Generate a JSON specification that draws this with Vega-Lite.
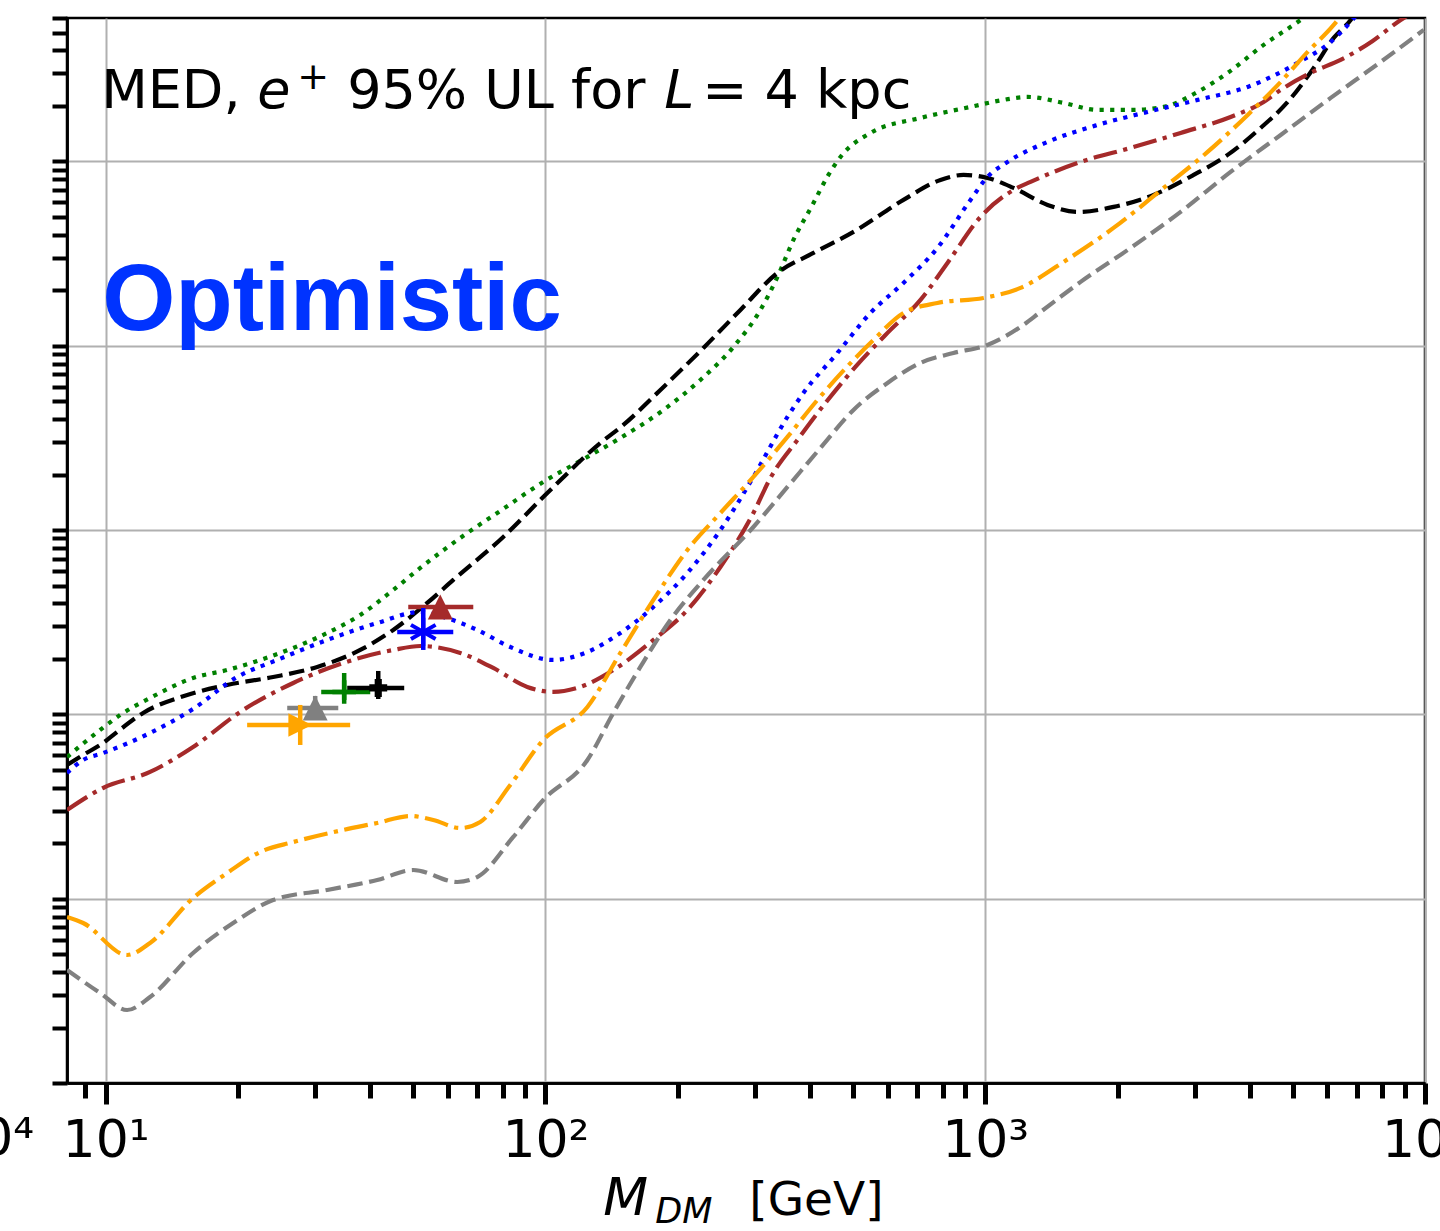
{
  "$schema": "https://vega.github.io/schema/vega-lite/v6.json",
  "width": 1358,
  "height": 1065,
  "autosize": {"type": "none"},
  "padding": {"left": 67, "top": 18, "right": 15, "bottom": 148},
  "background": "white",
  "config": {
    "view": {"stroke": "black", "strokeWidth": 2.5},
    "axis": {
      "domainColor": "black",
      "domainWidth": 2.5,
      "tickColor": "black",
      "gridColor": "#b0b0b0",
      "gridWidth": 2,
      "labelFont": "DejaVu Sans",
      "labelColor": "black"
    }
  },
  "resolve": {"axis": {"x": "independent", "y": "independent"}},
  "datasets": {
    "curves": [
      {"channel": "A", "mass": 8.17, "sigmav": 5.87e-27},
      {"channel": "A", "mass": 9.72, "sigmav": 8.23e-27},
      {"channel": "A", "mass": 10.79, "sigmav": 9.92e-27},
      {"channel": "A", "mass": 12.62, "sigmav": 1.227e-26},
      {"channel": "A", "mass": 15.81, "sigmav": 1.576e-26},
      {"channel": "A", "mass": 18.9, "sigmav": 1.741e-26},
      {"channel": "A", "mass": 22.46, "sigmav": 1.973e-26},
      {"channel": "A", "mass": 26.71, "sigmav": 2.293e-26},
      {"channel": "A", "mass": 31.91, "sigmav": 2.765e-26},
      {"channel": "A", "mass": 37.93, "sigmav": 3.462e-26},
      {"channel": "A", "mass": 45.08, "sigmav": 4.732e-26},
      {"channel": "A", "mass": 51.93, "sigmav": 6.229e-26},
      {"channel": "A", "mass": 66.44, "sigmav": 9.64e-26},
      {"channel": "A", "mass": 77.71, "sigmav": 1.238e-25},
      {"channel": "A", "mass": 98.9, "sigmav": 1.824e-25},
      {"channel": "A", "mass": 124.6, "sigmav": 2.493e-25},
      {"channel": "A", "mass": 148.1, "sigmav": 3.16e-25},
      {"channel": "A", "mass": 185.5, "sigmav": 4.484e-25},
      {"channel": "A", "mass": 225.1, "sigmav": 6.523e-25},
      {"channel": "A", "mass": 267.6, "sigmav": 9.85e-25},
      {"channel": "A", "mass": 308.2, "sigmav": 1.564e-24},
      {"channel": "A", "mass": 337.0, "sigmav": 2.362e-24},
      {"channel": "A", "mass": 366.4, "sigmav": 3.751e-24},
      {"channel": "A", "mass": 404.8, "sigmav": 5.808e-24},
      {"channel": "A", "mass": 440.1, "sigmav": 8.448e-24},
      {"channel": "A", "mass": 468.7, "sigmav": 1.058e-23},
      {"channel": "A", "mass": 548.5, "sigmav": 1.428e-23},
      {"channel": "A", "mass": 712.7, "sigmav": 1.722e-23},
      {"channel": "A", "mass": 925.9, "sigmav": 1.976e-23},
      {"channel": "A", "mass": 1100, "sigmav": 2.157e-23},
      {"channel": "A", "mass": 1248, "sigmav": 2.239e-23},
      {"channel": "A", "mass": 1507, "sigmav": 2.077e-23},
      {"channel": "A", "mass": 1801, "sigmav": 1.903e-23},
      {"channel": "A", "mass": 2141, "sigmav": 1.903e-23},
      {"channel": "A", "mass": 2545, "sigmav": 1.976e-23},
      {"channel": "A", "mass": 3041, "sigmav": 2.383e-23},
      {"channel": "A", "mass": 3558, "sigmav": 3.021e-23},
      {"channel": "A", "mass": 4297, "sigmav": 4.287e-23},
      {"channel": "A", "mass": 5215, "sigmav": 5.857e-23},
      {"channel": "A", "mass": 5790, "sigmav": 7.065e-23},

      {"channel": "B", "mass": 8.17, "sigmav": 5.314e-27},
      {"channel": "B", "mass": 8.89, "sigmav": 6.022e-27},
      {"channel": "B", "mass": 9.87, "sigmav": 6.995e-27},
      {"channel": "B", "mass": 10.62, "sigmav": 8.027e-27},
      {"channel": "B", "mass": 12.17, "sigmav": 1.018e-26},
      {"channel": "B", "mass": 15.33, "sigmav": 1.274e-26},
      {"channel": "B", "mass": 18.9, "sigmav": 1.444e-26},
      {"channel": "B", "mass": 24.04, "sigmav": 1.595e-26},
      {"channel": "B", "mass": 30.28, "sigmav": 1.808e-26},
      {"channel": "B", "mass": 37.93, "sigmav": 2.236e-26},
      {"channel": "B", "mass": 45.08, "sigmav": 2.871e-26},
      {"channel": "B", "mass": 53.86, "sigmav": 4.022e-26},
      {"channel": "B", "mass": 61.73, "sigmav": 5.362e-26},
      {"channel": "B", "mass": 80.2, "sigmav": 9.176e-26},
      {"channel": "B", "mass": 101.0, "sigmav": 1.589e-25},
      {"channel": "B", "mass": 133.4, "sigmav": 2.969e-25},
      {"channel": "B", "mass": 150.4, "sigmav": 3.718e-25},
      {"channel": "B", "mass": 182.6, "sigmav": 5.757e-25},
      {"channel": "B", "mass": 228.7, "sigmav": 9.73e-25},
      {"channel": "B", "mass": 277.6, "sigmav": 1.564e-24},
      {"channel": "B", "mass": 337.0, "sigmav": 2.483e-24},
      {"channel": "B", "mass": 406.9, "sigmav": 3.188e-24},
      {"channel": "B", "mass": 501.8, "sigmav": 4.145e-24},
      {"channel": "B", "mass": 651.8, "sigmav": 6.183e-24},
      {"channel": "B", "mass": 791.2, "sigmav": 7.937e-24},
      {"channel": "B", "mass": 892.6, "sigmav": 8.448e-24},
      {"channel": "B", "mass": 1012, "sigmav": 8.137e-24},
      {"channel": "B", "mass": 1160, "sigmav": 7.18e-24},
      {"channel": "B", "mass": 1386, "sigmav": 5.808e-24},
      {"channel": "B", "mass": 1622, "sigmav": 5.321e-24},
      {"channel": "B", "mass": 1958, "sigmav": 5.664e-24},
      {"channel": "B", "mass": 2415, "sigmav": 6.58e-24},
      {"channel": "B", "mass": 2978, "sigmav": 8.448e-24},
      {"channel": "B", "mass": 3558, "sigmav": 1.085e-23},
      {"channel": "B", "mass": 4229, "sigmav": 1.519e-23},
      {"channel": "B", "mass": 4873, "sigmav": 2.102e-23},
      {"channel": "B", "mass": 5583, "sigmav": 3.216e-23},
      {"channel": "B", "mass": 6200, "sigmav": 4.679e-23},
      {"channel": "B", "mass": 6776, "sigmav": 5.857e-23},
      {"channel": "B", "mass": 7142, "sigmav": 7.065e-23},

      {"channel": "C", "mass": 8.17, "sigmav": 4.808e-27},
      {"channel": "C", "mass": 8.89, "sigmav": 5.657e-27},
      {"channel": "C", "mass": 9.87, "sigmav": 6.17e-27},
      {"channel": "C", "mass": 12.62, "sigmav": 7.928e-27},
      {"channel": "C", "mass": 15.81, "sigmav": 1.07e-26},
      {"channel": "C", "mass": 19.91, "sigmav": 1.595e-26},
      {"channel": "C", "mass": 24.55, "sigmav": 1.973e-26},
      {"channel": "C", "mass": 31.91, "sigmav": 2.533e-26},
      {"channel": "C", "mass": 41.46, "sigmav": 3.132e-26},
      {"channel": "C", "mass": 51.93, "sigmav": 3.594e-26},
      {"channel": "C", "mass": 58.58, "sigmav": 3.377e-26},
      {"channel": "C", "mass": 69.98, "sigmav": 2.871e-26},
      {"channel": "C", "mass": 83.19, "sigmav": 2.321e-26},
      {"channel": "C", "mass": 104.2, "sigmav": 1.973e-26},
      {"channel": "C", "mass": 124.6, "sigmav": 2.181e-26},
      {"channel": "C", "mass": 148.1, "sigmav": 2.765e-26},
      {"channel": "C", "mass": 176.0, "sigmav": 3.826e-26},
      {"channel": "C", "mass": 210.3, "sigmav": 5.851e-26},
      {"channel": "C", "mass": 250.0, "sigmav": 1.001e-25},
      {"channel": "C", "mass": 297.1, "sigmav": 1.941e-25},
      {"channel": "C", "mass": 355.1, "sigmav": 4.109e-25},
      {"channel": "C", "mass": 386.1, "sigmav": 5.545e-25},
      {"channel": "C", "mass": 461.4, "sigmav": 9.14e-25},
      {"channel": "C", "mass": 548.5, "sigmav": 1.507e-24},
      {"channel": "C", "mass": 651.8, "sigmav": 2.192e-24},
      {"channel": "C", "mass": 778.7, "sigmav": 3.394e-24},
      {"channel": "C", "mass": 925.9, "sigmav": 6.183e-24},
      {"channel": "C", "mass": 1012, "sigmav": 8.24e-24},
      {"channel": "C", "mass": 1124, "sigmav": 9.94e-24},
      {"channel": "C", "mass": 1386, "sigmav": 1.276e-23},
      {"channel": "C", "mass": 1801, "sigmav": 1.578e-23},
      {"channel": "C", "mass": 2340, "sigmav": 1.856e-23},
      {"channel": "C", "mass": 3041, "sigmav": 2.157e-23},
      {"channel": "C", "mass": 3952, "sigmav": 2.536e-23},
      {"channel": "C", "mass": 5133, "sigmav": 3.424e-23},
      {"channel": "C", "mass": 6103, "sigmav": 4.45e-23},
      {"channel": "C", "mass": 6776, "sigmav": 5.713e-23},
      {"channel": "C", "mass": 7142, "sigmav": 6.637e-23},

      {"channel": "D", "mass": 8.17, "sigmav": 3.029e-27},
      {"channel": "D", "mass": 9.87, "sigmav": 3.986e-27},
      {"channel": "D", "mass": 12.62, "sigmav": 4.87e-27},
      {"channel": "D", "mass": 15.81, "sigmav": 6.655e-27},
      {"channel": "D", "mass": 20.55, "sigmav": 1.057e-26},
      {"channel": "D", "mass": 26.71, "sigmav": 1.48e-26},
      {"channel": "D", "mass": 34.7, "sigmav": 1.901e-26},
      {"channel": "D", "mass": 45.08, "sigmav": 2.236e-26},
      {"channel": "D", "mass": 51.93, "sigmav": 2.35e-26},
      {"channel": "D", "mass": 64.04, "sigmav": 2.154e-26},
      {"channel": "D", "mass": 76.1, "sigmav": 1.786e-26},
      {"channel": "D", "mass": 90.95, "sigmav": 1.408e-26},
      {"channel": "D", "mass": 104.2, "sigmav": 1.323e-26},
      {"channel": "D", "mass": 118.2, "sigmav": 1.391e-26},
      {"channel": "D", "mass": 142.7, "sigmav": 1.741e-26},
      {"channel": "D", "mass": 176.0, "sigmav": 2.533e-26},
      {"channel": "D", "mass": 210.3, "sigmav": 3.686e-26},
      {"channel": "D", "mass": 250.0, "sigmav": 6.307e-26},
      {"channel": "D", "mass": 297.1, "sigmav": 1.238e-25},
      {"channel": "D", "mass": 324.8, "sigmav": 1.917e-25},
      {"channel": "D", "mass": 374.1, "sigmav": 3.083e-25},
      {"channel": "D", "mass": 433.2, "sigmav": 4.893e-25},
      {"channel": "D", "mass": 506.8, "sigmav": 7.674e-25},
      {"channel": "D", "mass": 599.6, "sigmav": 1.174e-24},
      {"channel": "D", "mass": 712.7, "sigmav": 1.772e-24},
      {"channel": "D", "mass": 820.7, "sigmav": 2.814e-24},
      {"channel": "D", "mass": 975.7, "sigmav": 4.999e-24},
      {"channel": "D", "mass": 1160, "sigmav": 7.005e-24},
      {"channel": "D", "mass": 1268, "sigmav": 7.744e-24},
      {"channel": "D", "mass": 1648, "sigmav": 9.94e-24},
      {"channel": "D", "mass": 2141, "sigmav": 1.184e-23},
      {"channel": "D", "mass": 2782, "sigmav": 1.428e-23},
      {"channel": "D", "mass": 3614, "sigmav": 1.743e-23},
      {"channel": "D", "mass": 4297, "sigmav": 2.102e-23},
      {"channel": "D", "mass": 4697, "sigmav": 2.443e-23},
      {"channel": "D", "mass": 5553, "sigmav": 3.059e-23},
      {"channel": "D", "mass": 6428, "sigmav": 3.554e-23},
      {"channel": "D", "mass": 7603, "sigmav": 4.506e-23},
      {"channel": "D", "mass": 8804, "sigmav": 5.857e-23},
      {"channel": "D", "mass": 9775, "sigmav": 6.804e-23},

      {"channel": "E", "mass": 8.17, "sigmav": 7.955e-28},
      {"channel": "E", "mass": 8.89, "sigmav": 7.383e-28},
      {"channel": "E", "mass": 11.19, "sigmav": 4.949e-28},
      {"channel": "E", "mass": 12.62, "sigmav": 5.749e-28},
      {"channel": "E", "mass": 15.81, "sigmav": 1.009e-27},
      {"channel": "E", "mass": 18.9, "sigmav": 1.379e-27},
      {"channel": "E", "mass": 22.46, "sigmav": 1.792e-27},
      {"channel": "E", "mass": 26.71, "sigmav": 2.03e-27},
      {"channel": "E", "mass": 34.7, "sigmav": 2.359e-27},
      {"channel": "E", "mass": 41.46, "sigmav": 2.575e-27},
      {"channel": "E", "mass": 49.28, "sigmav": 2.81e-27},
      {"channel": "E", "mass": 55.59, "sigmav": 2.673e-27},
      {"channel": "E", "mass": 64.04, "sigmav": 2.418e-27},
      {"channel": "E", "mass": 71.09, "sigmav": 2.608e-27},
      {"channel": "E", "mass": 83.19, "sigmav": 4.139e-27},
      {"channel": "E", "mass": 98.9, "sigmav": 7.262e-27},
      {"channel": "E", "mass": 124.6, "sigmav": 1.097e-26},
      {"channel": "E", "mass": 148.1, "sigmav": 2.154e-26},
      {"channel": "E", "mass": 176.0, "sigmav": 4.176e-26},
      {"channel": "E", "mass": 210.3, "sigmav": 7.798e-26},
      {"channel": "E", "mass": 250.0, "sigmav": 1.238e-25},
      {"channel": "E", "mass": 297.1, "sigmav": 1.941e-25},
      {"channel": "E", "mass": 355.1, "sigmav": 3.2e-25},
      {"channel": "E", "mass": 415.5, "sigmav": 5.08e-25},
      {"channel": "E", "mass": 557.2, "sigmav": 1.075e-24},
      {"channel": "E", "mass": 651.8, "sigmav": 1.507e-24},
      {"channel": "E", "mass": 778.7, "sigmav": 1.707e-24},
      {"channel": "E", "mass": 991.1, "sigmav": 1.817e-24},
      {"channel": "E", "mass": 1203, "sigmav": 2.059e-24},
      {"channel": "E", "mass": 1507, "sigmav": 2.849e-24},
      {"channel": "E", "mass": 1958, "sigmav": 4.357e-24},
      {"channel": "E", "mass": 2545, "sigmav": 7.18e-24},
      {"channel": "E", "mass": 3204, "sigmav": 1.126e-23},
      {"channel": "E", "mass": 3952, "sigmav": 1.788e-23},
      {"channel": "E", "mass": 4697, "sigmav": 2.7e-23},
      {"channel": "E", "mass": 5410, "sigmav": 3.928e-23},
      {"channel": "E", "mass": 6200, "sigmav": 5.503e-23},
      {"channel": "E", "mass": 6601, "sigmav": 6.637e-23},

      {"channel": "F", "mass": 8.17, "sigmav": 4.104e-28},
      {"channel": "F", "mass": 9.72, "sigmav": 3.078e-28},
      {"channel": "F", "mass": 11.19, "sigmav": 2.489e-28},
      {"channel": "F", "mass": 12.62, "sigmav": 2.928e-28},
      {"channel": "F", "mass": 15.81, "sigmav": 5.074e-28},
      {"channel": "F", "mass": 19.5, "sigmav": 7.383e-28},
      {"channel": "F", "mass": 24.04, "sigmav": 9.84e-28},
      {"channel": "F", "mass": 31.91, "sigmav": 1.115e-27},
      {"channel": "F", "mass": 41.46, "sigmav": 1.263e-27},
      {"channel": "F", "mass": 50.06, "sigmav": 1.431e-27},
      {"channel": "F", "mass": 63.04, "sigmav": 1.232e-27},
      {"channel": "F", "mass": 69.98, "sigmav": 1.311e-27},
      {"channel": "F", "mass": 84.51, "sigmav": 2.162e-27},
      {"channel": "F", "mass": 98.9, "sigmav": 3.431e-27},
      {"channel": "F", "mass": 124.6, "sigmav": 5.657e-27},
      {"channel": "F", "mass": 142.7, "sigmav": 1.018e-26},
      {"channel": "F", "mass": 164.4, "sigmav": 1.808e-26},
      {"channel": "F", "mass": 192.4, "sigmav": 3.253e-26},
      {"channel": "F", "mass": 228.7, "sigmav": 5.362e-26},
      {"channel": "F", "mass": 297.1, "sigmav": 1.039e-25},
      {"channel": "F", "mass": 355.1, "sigmav": 1.713e-25},
      {"channel": "F", "mass": 422.1, "sigmav": 2.79e-25},
      {"channel": "F", "mass": 501.8, "sigmav": 4.484e-25},
      {"channel": "F", "mass": 599.6, "sigmav": 6.283e-25},
      {"channel": "F", "mass": 712.7, "sigmav": 8.068e-25},
      {"channel": "F", "mass": 846.9, "sigmav": 9.14e-25},
      {"channel": "F", "mass": 1012, "sigmav": 1.01e-24},
      {"channel": "F", "mass": 1203, "sigmav": 1.265e-24},
      {"channel": "F", "mass": 1336, "sigmav": 1.526e-24},
      {"channel": "F", "mass": 1648, "sigmav": 2.22e-24},
      {"channel": "F", "mass": 2141, "sigmav": 3.394e-24},
      {"channel": "F", "mass": 2782, "sigmav": 5.321e-24},
      {"channel": "F", "mass": 3614, "sigmav": 8.77e-24},
      {"channel": "F", "mass": 4697, "sigmav": 1.392e-23},
      {"channel": "F", "mass": 6103, "sigmav": 2.211e-23},
      {"channel": "F", "mass": 7930, "sigmav": 3.467e-23},
      {"channel": "F", "mass": 9934, "sigmav": 5.17e-23}
    ],
    "fits": [
      {"channel": "E", "mass": 27.7, "mass_lo": 20.98, "mass_hi": 35.98, "sigmav": 8.76e-27, "sigmav_lo": 6.823e-27, "sigmav_hi": 1.125e-26},
      {"channel": "F", "mass": 29.96, "mass_lo": 25.88, "mass_hi": 33.81, "sigmav": 1.083e-26, "sigmav_lo": 9.33e-27, "sigmav_hi": 1.259e-26},
      {"channel": "A", "mass": 34.87, "mass_lo": 30.92, "mass_hi": 39.97, "sigmav": 1.323e-26, "sigmav_lo": 1.197e-26, "sigmav_hi": 1.677e-26},
      {"channel": "B", "mass": 41.68, "mass_lo": 35.43, "mass_hi": 47.75, "sigmav": 1.391e-26, "sigmav_lo": 1.212e-26, "sigmav_hi": 1.72e-26},
      {"channel": "C", "mass": 52.76, "mass_lo": 46.03, "mass_hi": 61.73, "sigmav": 2.8e-26, "sigmav_lo": 2.236e-26, "sigmav_hi": 3.778e-26},
      {"channel": "D", "mass": 57.67, "mass_lo": 48.77, "mass_hi": 68.55, "sigmav": 3.826e-26, "sigmav_lo": 3.55e-26, "sigmav_hi": 4.15e-26}
    ]
  },
  "layer": [
    {
      "data": {"name": "curves"},
      "mark": {"type": "line", "strokeWidth": 4.2, "strokeCap": "butt", "interpolate": "monotone", "clip": true},
      "encoding": {
        "x": {
          "field": "mass",
          "type": "quantitative",
          "scale": {"type": "log", "domain": [8.17, 10000], "nice": false},
          "axis": {
            "orient": "bottom",
            "title": null,
            "values": [10, 100, 1000, 10000],
            "labelExpr": "datum.value == 10 ? '10¹' : datum.value == 100 ? '10²' : datum.value == 1000 ? '10³' : '10⁴'",
            "labelFontSize": 52,
            "labelBaseline": "alphabetic",
            "labelPadding": 52,
            "labelFlush": false,
            "labelOverlap": false,
            "labelBound": false,
            "tickWidth": 5,
            "tickSize": 21,
            "grid": true
          }
        },
        "y": {
          "field": "sigmav",
          "type": "quantitative",
          "scale": {"type": "log", "domain": [1e-28, 6e-23], "nice": false},
          "axis": {
            "orient": "left",
            "title": null,
            "labels": false,
            "values": [1e-28, 1e-27, 1e-26, 1e-25, 1e-24, 1e-23],
            "tickSize": 15,
            "tickWidth": 4,
            "grid": true
          }
        },
        "color": {
          "field": "channel",
          "type": "nominal",
          "scale": {"domain": ["A", "B", "C", "D", "E", "F"], "range": ["#008000", "#000000", "#0000ff", "#a52a2a", "#ffa500", "#808080"]},
          "legend": null
        },
        "strokeDash": {
          "field": "channel",
          "type": "nominal",
          "scale": {"domain": ["A", "B", "C", "D", "E", "F"], "range": [[4.2, 6.4], [15.5, 6.7], [4.2, 6.4], [24, 6.5, 4.2, 6.5], [24, 6.5, 4.2, 6.5], [15.5, 6.7]]},
          "legend": null
        }
      }
    },
    {
      "data": {"name": "fits"},
      "mark": {"type": "rule", "strokeWidth": 4.5},
      "encoding": {
        "x": {
          "field": "mass_lo",
          "type": "quantitative",
          "axis": {
            "orient": "bottom",
            "title": null,
            "labels": false,
            "grid": false,
            "values": [9, 20, 30, 40, 50, 60, 70, 80, 90, 200, 300, 400, 500, 600, 700, 800, 900, 2000, 3000, 4000, 5000, 6000, 7000, 8000, 9000],
            "tickSize": 15,
            "tickWidth": 5
          }
        },
        "x2": {"field": "mass_hi"},
        "y": {"field": "sigmav", "type": "quantitative", "axis": null},
        "color": {"field": "channel", "type": "nominal", "legend": null}
      }
    },
    {
      "data": {"name": "fits"},
      "mark": {"type": "rule", "strokeWidth": 4.5},
      "encoding": {
        "x": {"field": "mass", "type": "quantitative", "axis": null},
        "y": {
          "field": "sigmav_lo",
          "type": "quantitative",
          "axis": {
            "orient": "left",
            "title": null,
            "labels": false,
            "grid": false,
            "values": [2e-28, 3e-28, 4e-28, 5e-28, 6e-28, 7e-28, 8e-28, 9e-28,
                       2e-27, 3e-27, 4e-27, 5e-27, 6e-27, 7e-27, 8e-27, 9e-27,
                       2e-26, 3e-26, 4e-26, 5e-26, 6e-26, 7e-26, 8e-26, 9e-26,
                       2e-25, 3e-25, 4e-25, 5e-25, 6e-25, 7e-25, 8e-25, 9e-25,
                       2e-24, 3e-24, 4e-24, 5e-24, 6e-24, 7e-24, 8e-24, 9e-24,
                       2e-23, 3e-23, 4e-23, 5e-23, 6e-23],
            "tickSize": 15,
            "tickWidth": 4
          }
        },
        "y2": {"field": "sigmav_hi"},
        "color": {"field": "channel", "type": "nominal", "legend": null}
      }
    },
    {
      "data": {"name": "fits"},
      "transform": [{"filter": "datum.channel == 'D' || datum.channel == 'F'"}],
      "mark": {"type": "point", "shape": "M0,-1L1,1L-1,1Z", "size": 620, "filled": true, "opacity": 1},
      "encoding": {
        "x": {"field": "mass", "type": "quantitative", "axis": null},
        "y": {"field": "sigmav", "type": "quantitative", "axis": null},
        "color": {"field": "channel", "type": "nominal", "legend": null}
      }
    },
    {
      "data": {"name": "fits"},
      "transform": [{"filter": "datum.channel == 'E'"}],
      "mark": {"type": "point", "shape": "M1,0L-1,-1L-1,1Z", "size": 560, "filled": true, "opacity": 1},
      "encoding": {
        "x": {"field": "mass", "type": "quantitative", "axis": null},
        "y": {"field": "sigmav", "type": "quantitative", "axis": null},
        "color": {"field": "channel", "type": "nominal", "legend": null}
      }
    },
    {
      "data": {"name": "fits"},
      "transform": [{"filter": "datum.channel == 'B'"}],
      "mark": {"type": "point", "shape": "cross", "size": 320, "filled": true, "opacity": 1},
      "encoding": {
        "x": {"field": "mass", "type": "quantitative", "axis": null},
        "y": {"field": "sigmav", "type": "quantitative", "axis": null},
        "color": {"field": "channel", "type": "nominal", "legend": null}
      }
    },
    {
      "data": {"name": "fits"},
      "transform": [{"filter": "datum.channel == 'A'"}],
      "mark": {"type": "point", "shape": "M-1,0L1,0M0,-1L0,1", "size": 560, "filled": false, "opacity": 1, "strokeWidth": 4.5},
      "encoding": {
        "x": {"field": "mass", "type": "quantitative", "axis": null},
        "y": {"field": "sigmav", "type": "quantitative", "axis": null},
        "color": {"field": "channel", "type": "nominal", "legend": null}
      }
    },
    {
      "data": {"name": "fits"},
      "transform": [{"filter": "datum.channel == 'C'"}],
      "mark": {"type": "point", "shape": "M0,-1L0,1M-0.87,-0.5L0.87,0.5M-0.87,0.5L0.87,-0.5", "size": 800, "filled": false, "opacity": 1, "strokeWidth": 4},
      "encoding": {
        "x": {"field": "mass", "type": "quantitative", "axis": null},
        "y": {"field": "sigmav", "type": "quantitative", "axis": null},
        "color": {"field": "channel", "type": "nominal", "legend": null}
      }
    },
    {
      "data": {"values": [{}]},
      "mark": {"type": "text", "align": "left", "baseline": "alphabetic", "font": "DejaVu Sans", "fontSize": 54, "color": "black", "clip": false},
      "encoding": {
        "x": {"datum": 9.77, "type": "quantitative", "axis": null},
        "y": {"datum": 1.95e-23, "type": "quantitative", "axis": null},
        "text": {"value": "MED,"}
      }
    },
    {
      "data": {"values": [{}]},
      "mark": {"type": "text", "align": "left", "baseline": "alphabetic", "font": "DejaVu Sans", "fontStyle": "italic", "fontSize": 54, "color": "black", "clip": false, "dx": 156},
      "encoding": {
        "x": {"datum": 9.77, "type": "quantitative", "axis": null},
        "y": {"datum": 1.95e-23, "type": "quantitative", "axis": null},
        "text": {"value": "e"}
      }
    },
    {
      "data": {"values": [{}]},
      "mark": {"type": "text", "align": "left", "baseline": "alphabetic", "font": "DejaVu Sans", "fontSize": 38, "color": "black", "clip": false, "dx": 196, "dy": -19},
      "encoding": {
        "x": {"datum": 9.77, "type": "quantitative", "axis": null},
        "y": {"datum": 1.95e-23, "type": "quantitative", "axis": null},
        "text": {"value": "+"}
      }
    },
    {
      "data": {"values": [{}]},
      "mark": {"type": "text", "align": "left", "baseline": "alphabetic", "font": "DejaVu Sans", "fontSize": 54, "color": "black", "clip": false, "dx": 246},
      "encoding": {
        "x": {"datum": 9.77, "type": "quantitative", "axis": null},
        "y": {"datum": 1.95e-23, "type": "quantitative", "axis": null},
        "text": {"value": "95% UL for"}
      }
    },
    {
      "data": {"values": [{}]},
      "mark": {"type": "text", "align": "left", "baseline": "alphabetic", "font": "DejaVu Sans", "fontStyle": "italic", "fontSize": 54, "color": "black", "clip": false, "dx": 563},
      "encoding": {
        "x": {"datum": 9.77, "type": "quantitative", "axis": null},
        "y": {"datum": 1.95e-23, "type": "quantitative", "axis": null},
        "text": {"value": "L"}
      }
    },
    {
      "data": {"values": [{}]},
      "mark": {"type": "text", "align": "left", "baseline": "alphabetic", "font": "DejaVu Sans", "fontSize": 54, "color": "black", "clip": false, "dx": 601},
      "encoding": {
        "x": {"datum": 9.77, "type": "quantitative", "axis": null},
        "y": {"datum": 1.95e-23, "type": "quantitative", "axis": null},
        "text": {"value": "= 4 kpc"}
      }
    },
    {
      "data": {"values": [{}]},
      "mark": {"type": "text", "align": "left", "baseline": "alphabetic", "font": "Liberation Sans", "fontWeight": "bold", "fontSize": 94, "color": "#0033ff", "clip": false},
      "encoding": {
        "x": {"datum": 9.82, "type": "quantitative", "axis": null},
        "y": {"datum": 1.218e-24, "type": "quantitative", "axis": null},
        "text": {"value": "Optimistic"}
      }
    },
    {
      "data": {"values": [{}]},
      "mark": {"type": "text", "align": "right", "baseline": "alphabetic", "font": "DejaVu Sans", "fontSize": 52, "color": "black", "clip": false},
      "encoding": {
        "x": {"datum": 6.88, "type": "quantitative", "axis": null},
        "y": {"datum": 4.07e-29, "type": "quantitative", "axis": null},
        "text": {"value": "10⁴"}
      }
    },
    {
      "data": {"values": [{}]},
      "mark": {"type": "text", "align": "left", "baseline": "alphabetic", "font": "DejaVu Sans", "fontStyle": "italic", "fontSize": 52, "color": "black", "clip": false},
      "encoding": {
        "x": {"datum": 135.4, "type": "quantitative", "axis": null},
        "y": {"datum": 1.922e-29, "type": "quantitative", "axis": null},
        "text": {"value": "M"}
      }
    },
    {
      "data": {"values": [{}]},
      "mark": {"type": "text", "align": "left", "baseline": "alphabetic", "font": "DejaVu Sans", "fontStyle": "italic", "fontSize": 35, "color": "black", "clip": false},
      "encoding": {
        "x": {"datum": 177.8, "type": "quantitative", "axis": null},
        "y": {"datum": 1.75e-29, "type": "quantitative", "axis": null},
        "text": {"value": "DM"}
      }
    },
    {
      "data": {"values": [{}]},
      "mark": {"type": "text", "align": "left", "baseline": "alphabetic", "font": "DejaVu Sans", "fontSize": 47, "color": "black", "clip": false},
      "encoding": {
        "x": {"datum": 290.9, "type": "quantitative", "axis": null},
        "y": {"datum": 1.922e-29, "type": "quantitative", "axis": null},
        "text": {"value": "[GeV]"}
      }
    }
  ]
}
